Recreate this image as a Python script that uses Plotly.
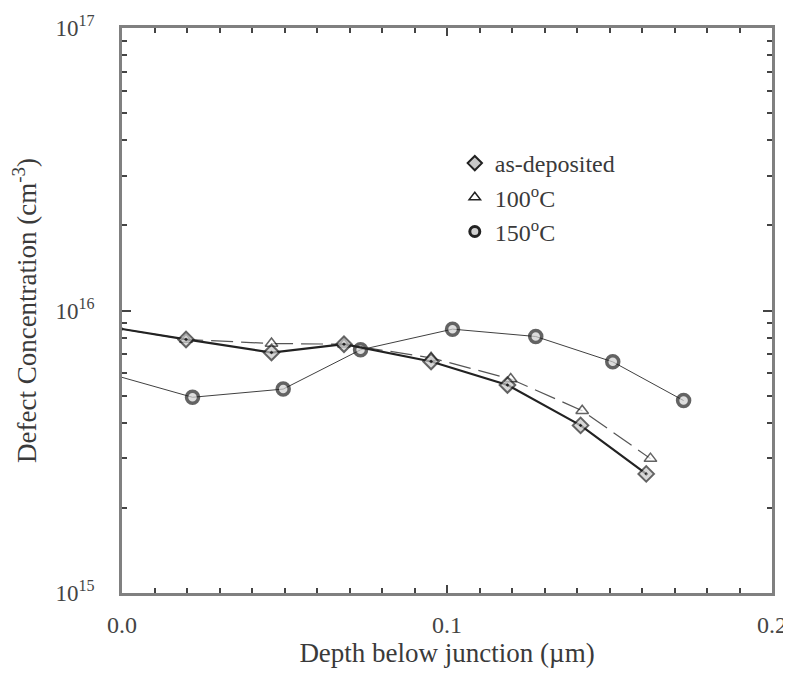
import plotly.graph_objects as go

# Data (depth in µm, concentration in cm^-3)
depth_asdep = [0.0, 0.0197, 0.046, 0.0683, 0.0951, 0.1186, 0.1411, 0.1613]
conc_asdep = [8.6e15, 7.9e15, 7.1e15, 7.6e15, 6.6e15, 5.45e15, 3.92e15, 2.64e15]

depth_100 = [0.0, 0.0197, 0.046, 0.0683, 0.0951, 0.1196, 0.1416, 0.1626]
conc_100 = [8.6e15, 7.9e15, 7.64e15, 7.6e15, 6.8e15, 5.72e15, 4.42e15, 2.99e15]

depth_150 = [0.0, 0.0217, 0.0496, 0.0734, 0.1017, 0.1273, 0.151, 0.1728]
conc_150 = [5.8e15, 4.93e15, 5.27e15, 7.26e15, 8.59e15, 8.09e15, 6.58e15, 4.8e15]

series_names = ["as-deposited", "100<sup>o</sup>C", "150<sup>o</sup>C"]

x_tickvals = [0.0, 0.1, 0.2]
x_ticktext = ["0.0", "0.1", "0.2"]
y_tickvals = [1e15, 1e16, 1e17]
y_ticktext = ["10<sup>15</sup>", "10<sup>16</sup>", "10<sup>17</sup>"]
x_minor = [i / 100 for i in range(1, 20)]
y_minor = [m * 1e15 for m in range(2, 10)] + [m * 1e16 for m in range(2, 10)]

FONT = "Liberation Serif, Times New Roman, serif"
DARK = "#222222"
AXIS = "#808080"
TEXT = "#3a3a3a"


def sizes(n, s):
    return [0] + [s] * (n - 1)


fig = go.Figure()

# 150 C (thin line, open circles)
fig.add_trace(go.Scatter(
    x=depth_150, y=conc_150, mode="lines+markers", showlegend=False,
    line=dict(color="#404040", width=1),
    marker=dict(symbol="circle", size=sizes(len(depth_150), 12), color="#d0d0d0",
                line=dict(color=DARK, width=3.5)),
    cliponaxis=False,
))
# 100 C (dashed line, open triangles)
fig.add_trace(go.Scatter(
    x=depth_100, y=conc_100, mode="lines+markers", showlegend=False,
    line=dict(color="#555555", width=1.2, dash="22px,8px"),
    marker=dict(symbol="triangle-up", size=sizes(len(depth_100), 11), color="white",
                line=dict(color=DARK, width=1.5)),
    cliponaxis=False,
))
# as-deposited (thick line, diamonds)
fig.add_trace(go.Scatter(
    x=depth_asdep, y=conc_asdep, mode="lines+markers", showlegend=False,
    line=dict(color=DARK, width=2.2),
    marker=dict(symbol="diamond-dot", size=sizes(len(depth_asdep), 12), color="#c8c8c8",
                line=dict(color=DARK, width=2)),
    cliponaxis=False,
))

# Legend entries
legend_styles = [
    dict(symbol="diamond", size=11, color="#c8c8c8", line=dict(color=DARK, width=2)),
    dict(symbol="triangle-up", size=10, color="white", line=dict(color=DARK, width=1.5)),
    dict(symbol="circle", size=10, color="#d0d0d0", line=dict(color=DARK, width=3)),
]
for name, st in zip(series_names, legend_styles):
    fig.add_trace(go.Scatter(x=[None], y=[None], mode="markers", name=name,
                             marker=st, showlegend=True))

# The page body has an 8px default margin, so the figure is sized and
# margined to land the plot frame where the reference has it.
fig.update_layout(
    width=783, height=667,
    margin=dict(l=114, r=19, t=20, b=82, autoexpand=False),
    paper_bgcolor="white", plot_bgcolor="white",
    font=dict(family=FONT, size=20, color=TEXT),
    legend=dict(x=0.512, y=0.80, xanchor="left", yanchor="top",
                bgcolor="rgba(0,0,0,0)", font=dict(size=24, family=FONT, color=TEXT),
                itemwidth=30, tracegroupgap=0),
    showlegend=True,
)

fig.update_xaxes(
    range=[0, 0.2], tickvals=x_tickvals, ticktext=x_ticktext,
    ticks="inside", ticklen=8, tickwidth=1.5, tickcolor="#444444",
    minor=dict(tickvals=x_minor, ticks="inside", ticklen=5, tickwidth=1.5, tickcolor="#444444"),
    showline=True, linecolor=AXIS, linewidth=2.5, mirror="ticks",
    showgrid=False, zeroline=False,
    tickfont=dict(size=24, family=FONT, color="#444444"),
    ticklabelstandoff=8,
    title=dict(text="Depth below junction (µm)", font=dict(size=27, family=FONT, color=TEXT),
               standoff=6),
)
fig.update_yaxes(
    type="log", range=[15, 17], tickvals=y_tickvals, ticktext=y_ticktext,
    ticks="inside", ticklen=9, tickwidth=1.5, tickcolor="#444444",
    minor=dict(tickvals=y_minor, ticks="inside", ticklen=5, tickwidth=1.5, tickcolor="#444444"),
    showline=True, linecolor=AXIS, linewidth=2.5, mirror="ticks",
    showgrid=False, zeroline=False,
    tickfont=dict(size=23, family=FONT, color="#444444"),
    ticklabelstandoff=20,
    title=dict(text="Defect Concentration (cm<sup>-3</sup>)",
               font=dict(size=27, family=FONT, color=TEXT), standoff=20),
)

fig.write_html("out.html")
